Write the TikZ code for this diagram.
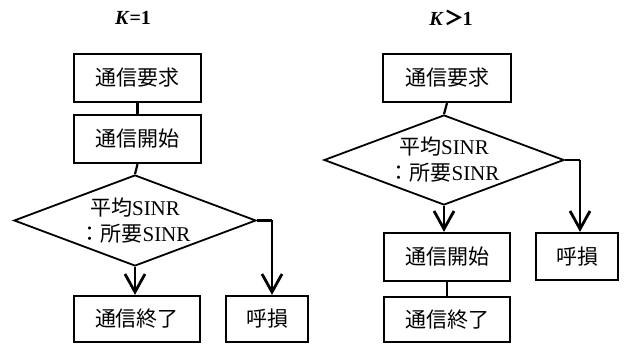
\documentclass[tikz,border=0pt]{standalone}
\usepackage{fontspec}
\setmainfont{Liberation Serif}
\newfontfamily\cjk{Noto Sans CJK JP}
\usetikzlibrary{shapes.geometric,arrows.meta}
\tikzset{
  box/.style={draw, line width=2.2pt, inner sep=0pt, font=\cjk\fontsize{21}{24}\selectfont},
  dia/.style={draw, shape=diamond, line width=1.8pt, inner sep=0pt, aspect=2.66, align=center,
    font=\fontsize{21}{26}\selectfont},
  link/.style={line width=2.2pt},
  arr/.style={line width=2.8pt, -{Straight Barb[length=18pt,width=20pt,line width=2.8pt]}},
  ttl/.style={font=\fontsize{20}{22}\selectfont\bfseries}
}
\begin{document}
\begin{tikzpicture}[x=1pt,y=-1pt]
\useasboundingbox (0,0) rectangle (625,344);
% left panel
\node[ttl] (t1) at (133,18) {\textit{K}=1};
\node[box, minimum width=127pt, minimum height=48pt] (b1) at (137.5,78) {通信要求};
\node[box, minimum width=127pt, minimum height=48pt] (b2) at (137.5,139) {通信開始};
\node[dia, minimum width=242pt, minimum height=91pt] (d1) at (135,220.5) {{\cjk 平均}SINR\\{\cjk ：所要}SINR};
\node[box, minimum width=126pt, minimum height=46pt] (b3) at (137,319) {通信終了};
\node[box, minimum width=82pt, minimum height=46pt] (b4) at (267,319) {呼損};
\coordinate (r1) at (272,220.5);
\draw[link] (b1.south) -- (b2.north);
\draw[link] (b2.south) -- (d1.north);
\draw[arr] (d1.south) -- (d1.south |- b3.north);
\draw[link] (d1.east) -- (r1);
\draw[arr] (r1) -- (r1 |- b4.north);
% right panel
\node[ttl] (t2) at (451,18) {\textit{K}\hspace{1pt}{\cjk\bfseries ＞}\hspace{-2pt}1};
\node[box, minimum width=128pt, minimum height=48pt] (c1) at (447,78) {通信要求};
\node[dia, minimum width=240pt, minimum height=90pt] (d2) at (444,160) {{\cjk 平均}SINR\\{\cjk ：所要}SINR};
\node[box, minimum width=126pt, minimum height=48pt] (c2) at (447,257) {通信開始};
\node[box, minimum width=126pt, minimum height=45pt] (c3) at (447,319.5) {通信終了};
\node[box, minimum width=82pt, minimum height=47pt] (c4) at (577,256.5) {呼損};
\coordinate (r2) at (580,160);
\draw[link] (c1.south) -- (d2.north);
\draw[arr] (d2.south) -- (d2.south |- c2.north);
\draw[link] (c2.south) -- (c3.north);
\draw[link] (d2.east) -- (r2);
\draw[arr] (r2) -- (r2 |- c4.north);
\end{tikzpicture}
\end{document}
